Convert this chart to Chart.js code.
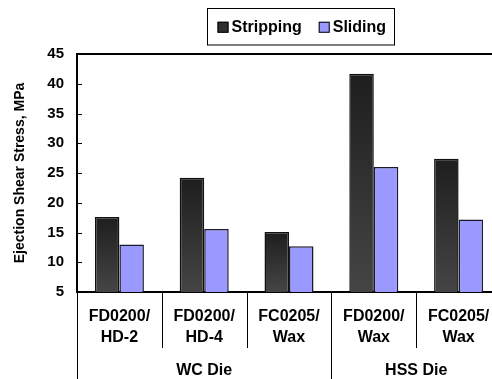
<!DOCTYPE html>
<html>
<head>
<meta charset="utf-8">
<script src="https://cdn.jsdelivr.net/npm/chart.js@4/dist/chart.umd.min.js"></script>
<style>
  html, body { margin: 0; padding: 0; overflow: hidden; background: #fff; }
  #wrap { width: 492px; height: 379px; overflow: hidden; }
  canvas { display: block; }
</style>
</head>
<body>
<div id="wrap"><canvas id="c" width="520" height="379"></canvas></div>
<script>
// Mix / lubricant combinations on the category axis (two-line labels)
const categories = [
  ['FD0200/', 'HD-2'],
  ['FD0200/', 'HD-4'],
  ['FC0205/', 'Wax'],
  ['FD0200/', 'Wax'],
  ['FC0205/', 'Wax']
];
// Die material groups and how many categories each spans
const dieGroups = ['WC Die', 'HSS Die'];
const groupSizes = [3, 2];

// Ejection shear stress, MPa
const seriesNames = ['Stripping', 'Sliding'];
const stripping = [17.6, 24.2, 15.1, 41.7, 27.4];
const sliding = [13.0, 15.6, 12.7, 26.0, 17.2];

// Value axis
const yMin = 5;
const yMax = 45;
const yStep = 5;

const FONT = '"Liberation Sans", Arial, sans-serif';
const SLIDING_FILL = '#9999ff';

function strippingFill(ctx) {
  const chart = ctx.chart;
  const area = chart.chartArea;
  if (!area || ctx.type !== 'data') return '#333333';
  const top = chart.scales.y.getPixelForValue(ctx.raw);
  const g = chart.ctx.createLinearGradient(0, top, 0, area.bottom);
  g.addColorStop(0, '#1e1e1e');
  g.addColorStop(1, '#454545');
  return g;
}

// Frame, inner tick marks, grouped category axis and boxed legend
const decorations = {
  id: 'decorations',
  afterDraw(chart) {
    const ctx = chart.ctx;
    const area = chart.chartArea;
    const x = chart.scales.x;
    const y = chart.scales.y;
    ctx.save();

    // top frame line
    ctx.strokeStyle = '#000';
    ctx.lineWidth = 2;
    ctx.beginPath();
    ctx.moveTo(area.left - 1, area.top);
    ctx.lineTo(area.right, area.top);
    ctx.stroke();

    // inward tick marks on the value axis
    ctx.lineWidth = 1;
    y.ticks.forEach(t => {
      if (t.value === yMin || t.value === yMax) return;
      const py = Math.round(y.getPixelForValue(t.value)) + 0.5;
      ctx.beginPath();
      ctx.moveTo(area.left, py);
      ctx.lineTo(area.left + 5, py);
      ctx.stroke();
    });

    // category labels and dividers
    const n = chart.data.labels.length;
    const step = n > 1 ? x.getPixelForValue(1) - x.getPixelForValue(0) : area.width;
    const base = area.bottom;
    ctx.fillStyle = '#000';
    ctx.textAlign = 'center';
    ctx.textBaseline = 'middle';
    ctx.font = 'bold 16px ' + FONT;
    chart.data.labels.forEach((lab, i) => {
      const cx = x.getPixelForValue(i);
      const lines = Array.isArray(lab) ? lab : [lab];
      lines.forEach((ln, k) => ctx.fillText(ln, cx, base + 24.5 + k * 21.5));
    });

    // group boundaries: long lines; inner category boundaries: short lines
    let start = 0;
    const groupStarts = [];
    groupSizes.forEach(s => { groupStarts.push(start); start += s; });
    ctx.lineWidth = 1;
    for (let i = 0; i <= n; i++) {
      const bx = Math.round(x.getPixelForValue(i) - step / 2) + 0.5;
      const isGroupEdge = groupStarts.includes(i) || i === n;
      ctx.beginPath();
      ctx.moveTo(bx, base);
      ctx.lineTo(bx, isGroupEdge ? chart.height : base + 56);
      ctx.stroke();
    }

    dieGroups.forEach((g, gi) => {
      const first = groupStarts[gi];
      const last = first + groupSizes[gi] - 1;
      const cx = (x.getPixelForValue(first) + x.getPixelForValue(last)) / 2;
      ctx.fillText(g, cx, base + 79);
    });

    // legend box
    ctx.font = 'bold 16px ' + FONT;
    const sw = 11, gapText = 3, gapItem = 17, padL = 10, padR = 8;
    const widths = chart.data.datasets.map(d => ctx.measureText(d.label).width);
    let total = padL + padR;
    widths.forEach((w, i) => { total += sw + gapText + w + (i ? gapItem : 0); });
    const boxCx = 300.5, boxTop = 8.5, boxBottom = 45;
    const boxLeft = Math.round(boxCx - total / 2) + 0.5;
    ctx.lineWidth = 1;
    ctx.strokeStyle = '#000';
    ctx.strokeRect(boxLeft, boxTop, Math.round(total), boxBottom - boxTop);
    const midY = (boxTop + boxBottom) / 2 + 0.5;
    let lx = boxLeft + padL;
    ctx.textAlign = 'left';
    chart.data.datasets.forEach((d, i) => {
      if (i) lx += gapItem;
      ctx.fillStyle = i === 0 ? '#303030' : SLIDING_FILL;
      ctx.fillRect(lx, midY - sw / 2, sw, sw);
      ctx.strokeStyle = '#000';
      ctx.strokeRect(lx + 0.5, midY - sw / 2 + 0.5, sw - 1, sw - 1);
      lx += sw + gapText;
      ctx.fillStyle = '#000';
      ctx.fillText(d.label, lx, midY);
      lx += widths[i];
    });

    ctx.restore();
  }
};

new Chart(document.getElementById('c'), {
  type: 'bar',
  data: {
    labels: categories,
    datasets: [
      {
        label: seriesNames[0],
        data: stripping,
        backgroundColor: strippingFill,
        borderColor: '#111111',
        borderWidth: 1.5
      },
      {
        label: seriesNames[1],
        data: sliding,
        backgroundColor: SLIDING_FILL,
        borderColor: '#1a1a2a',
        borderWidth: 1.5
      }
    ]
  },
  options: {
    responsive: false,
    animation: false,
    devicePixelRatio: 1,
    layout: { padding: { top: 54, right: 19, left: 0, bottom: 0 } },
    plugins: { legend: { display: false }, tooltip: { enabled: false } },
    datasets: { bar: { barPercentage: 1, categoryPercentage: 0.578 } },
    scales: {
      x: {
        offset: true,
        ticks: { display: false },
        grid: { display: false },
        border: { display: true, color: '#000', width: 2 },
        afterFit(scale) { scale.height = 87; }
      },
      y: {
        min: yMin,
        max: yMax,
        ticks: {
          stepSize: yStep,
          color: '#000',
          padding: 13,
          font: { family: FONT, size: 15, weight: 'bold' }
        },
        grid: { display: false, drawTicks: false },
        border: { display: true, color: '#000', width: 2 },
        title: {
          display: true,
          text: 'Ejection Shear Stress, MPa',
          color: '#000',
          padding: { top: 12, bottom: 0 },
          font: { family: FONT, size: 14, weight: 'bold' }
        },
        afterFit(scale) { scale.width = 77; }
      }
    }
  },
  plugins: [decorations]
});
</script>
</body>
</html>
